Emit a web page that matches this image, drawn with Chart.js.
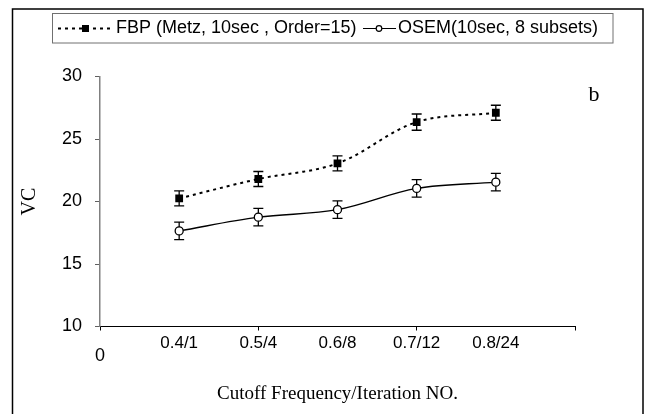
<!DOCTYPE html>
<html>
<head>
<meta charset="utf-8">
<script src="https://cdn.jsdelivr.net/npm/chart.js@4.4.0/dist/chart.umd.min.js"></script>
<style>
  body { margin: 0; background: #fff; }
  #wrap { width: 647px; height: 414px; }
</style>
</head>
<body>
<div id="wrap"><canvas id="vcChart" width="647" height="414"></canvas></div>
<script>
// data
const categories = ['0.4/1', '0.5/4', '0.6/8', '0.7/12', '0.8/24'];
const categoryPos = [1, 2, 3, 4, 5];
const fbpValues = [20.25, 21.8, 23.05, 26.35, 27.1];
const fbpErrors = [0.6, 0.6, 0.6, 0.65, 0.6];
const osemValues = [17.65, 18.75, 19.35, 21.05, 21.55];
const osemErrors = [0.7, 0.7, 0.7, 0.7, 0.7];
const yTicks = [10, 15, 20, 25, 30];

const sans = "'Liberation Sans', Arial, sans-serif";
const serif = "'Liberation Serif', 'Times New Roman', serif";

function toPoints(values) {
    return values.map((v, i) => ({ x: categoryPos[i], y: v }));
}

// frame, legend box and the "b" label
const decorations = {
    id: 'decorations',
    beforeDraw(chart) {
        const c = chart.ctx;
        c.save();
        c.fillStyle = '#fff';
        c.fillRect(0, 0, chart.width, chart.height);
        c.strokeStyle = '#000';
        c.lineWidth = 1.5;
        c.strokeRect(12.5, 9, 630.5, 430);
        c.restore();
    },
    afterDraw(chart) {
        const c = chart.ctx;
        c.save();
        // legend
        c.strokeStyle = '#707070';
        c.lineWidth = 1;
        c.strokeRect(52.5, 13.5, 560.5, 29.5);
        const ly = 28.5;
        c.strokeStyle = '#000';
        c.lineWidth = 2;
        c.setLineDash([3, 4]);
        c.beginPath(); c.moveTo(58, ly); c.lineTo(113, ly); c.stroke();
        c.setLineDash([]);
        c.fillStyle = '#000';
        c.fillRect(82, ly - 3.5, 7, 7);
        c.lineWidth = 1.2;
        c.beginPath(); c.moveTo(363, ly); c.lineTo(396, ly); c.stroke();
        c.beginPath(); c.arc(379, ly, 2.8, 0, Math.PI * 2);
        c.fillStyle = '#fff'; c.fill(); c.stroke();
        c.fillStyle = '#000';
        c.font = '18px ' + sans;
        c.textBaseline = 'middle';
        c.textAlign = 'left';
        c.fillText(chart.data.datasets[0].label, 116, ly);
        c.fillText(chart.data.datasets[1].label, 398, ly);
        // panel letter
        c.font = '22px ' + serif;
        c.textAlign = 'center';
        c.fillText('b', 594, 95);
        c.restore();
    }
};

// vertical error bars with caps
const errorBars = {
    id: 'errorBars',
    beforeDatasetsDraw(chart) {
        const c = chart.ctx;
        const xs = chart.scales.x, ys = chart.scales.y;
        c.save();
        c.strokeStyle = '#000';
        c.lineWidth = 1.3;
        chart.data.datasets.forEach(ds => {
            ds.data.forEach((p, i) => {
                const e = ds.errors[i];
                const x = xs.getPixelForValue(p.x);
                const y1 = ys.getPixelForValue(p.y + e);
                const y2 = ys.getPixelForValue(p.y - e);
                c.beginPath();
                c.moveTo(x, y1); c.lineTo(x, y2);
                c.moveTo(x - 5, y1); c.lineTo(x + 5, y1);
                c.moveTo(x - 5, y2); c.lineTo(x + 5, y2);
                c.stroke();
            });
        });
        c.restore();
    }
};

const ctx = document.getElementById('vcChart').getContext('2d');
const vcChart = new Chart(ctx, {
    type: 'line',
    data: {
        datasets: [{
            label: 'FBP (Metz, 10sec , Order=15)',
            data: toPoints(fbpValues),
            errors: fbpErrors,
            borderColor: '#000',
            borderWidth: 2,
            borderDash: [3, 4],
            tension: 0.35,
            pointStyle: 'rect',
            pointRadius: 5.5,
            pointBackgroundColor: '#000',
            pointBorderColor: '#000',
            pointBorderWidth: 0
        }, {
            label: 'OSEM(10sec, 8 subsets)',
            data: toPoints(osemValues),
            errors: osemErrors,
            borderColor: '#000',
            borderWidth: 1.5,
            tension: 0.35,
            pointStyle: 'circle',
            pointRadius: 4,
            pointBackgroundColor: '#fff',
            pointBorderColor: '#000',
            pointBorderWidth: 1.3
        }]
    },
    options: {
        responsive: false,
        animation: false,
        layout: { padding: { left: 0, top: 76.5, right: 72, bottom: 0 } },
        plugins: {
            legend: { display: false },
            tooltip: { enabled: false }
        },
        scales: {
            x: {
                type: 'linear',
                min: 0,
                max: 6,
                afterFit(scale) { scale.height = 87.5; },
                border: { color: '#000', width: 1 },
                grid: {
                    drawOnChartArea: false,
                    tickLength: 4,
                    tickColor: c => (c.tick && c.tick.value % 2 === 0) ? '#000' : 'rgba(0,0,0,0)'
                },
                ticks: {
                    stepSize: 1,
                    autoSkip: false,
                    maxRotation: 0,
                    padding: 3,
                    color: '#000',
                    font: c => (c.tick && c.tick.value === 0)
                        ? { family: sans, size: 18, lineHeight: 2.55 }
                        : { family: sans, size: 17 },
                    callback: v => v === 0 ? '0' : (categories[v - 1] || '')
                },
                title: {
                    display: true,
                    text: 'Cutoff Frequency/Iteration NO.',
                    color: '#000',
                    font: { family: serif, size: 19 },
                    padding: { top: 0, bottom: 8.6 }
                }
            },
            y: {
                min: 10,
                max: 30,
                afterFit(scale) { scale.width = 100; },
                afterBuildTicks(scale) { scale.ticks = yTicks.map(v => ({ value: v })); },
                border: { color: '#808080', width: 1.5 },
                grid: {
                    drawOnChartArea: false,
                    tickLength: 5,
                    tickColor: '#606060'
                },
                ticks: {
                    padding: 13,
                    color: '#000',
                    font: { family: sans, size: 18 }
                },
                title: {
                    display: true,
                    text: 'VC',
                    color: '#000',
                    font: { family: serif, size: 20 },
                    padding: { top: 18, bottom: 0 }
                }
            }
        }
    },
    plugins: [decorations, errorBars]
});
</script>
</body>
</html>
